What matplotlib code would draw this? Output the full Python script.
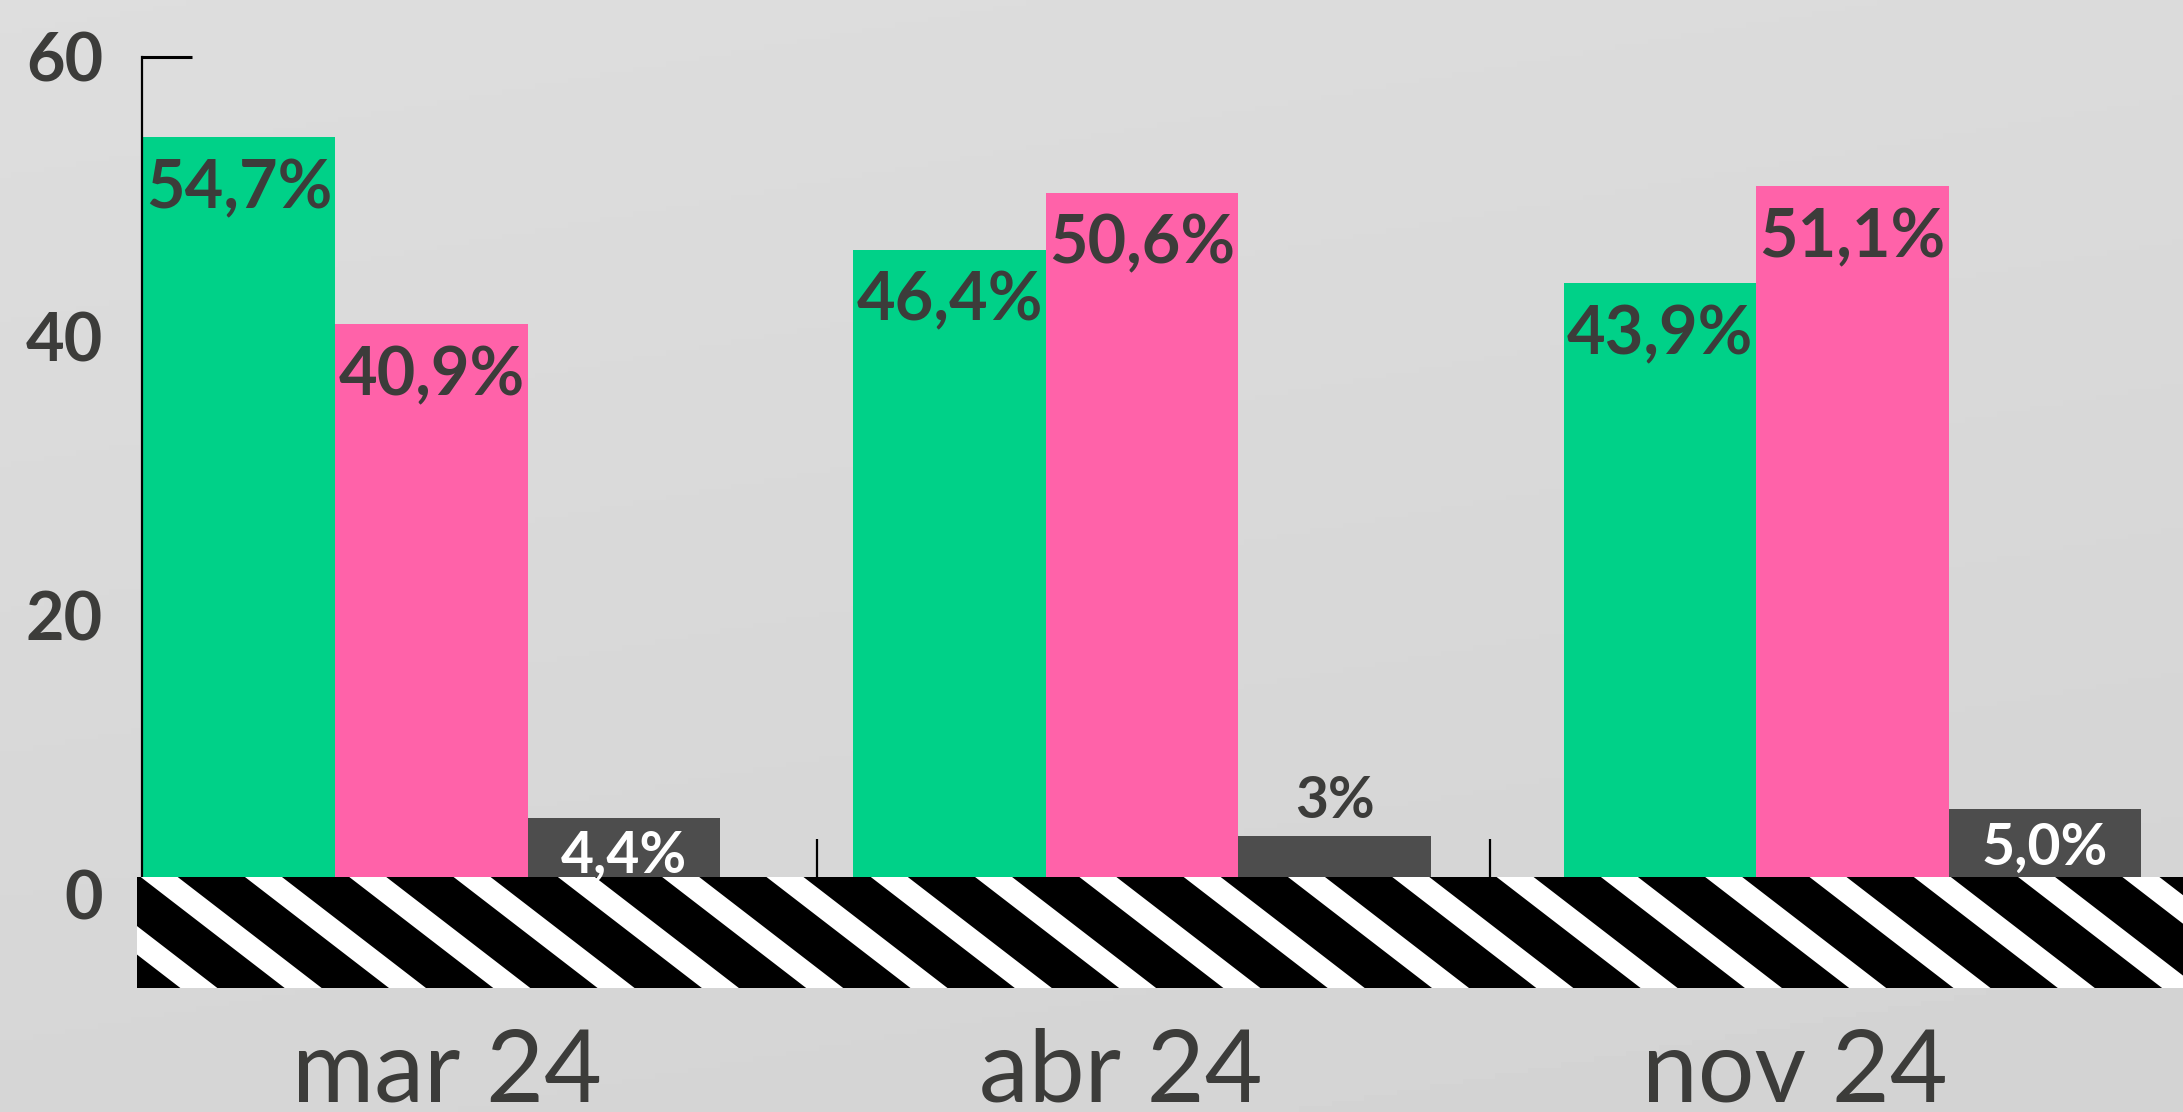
import matplotlib
matplotlib.use('Agg')
import matplotlib.pyplot as plt
from matplotlib.patches import Rectangle, Polygon
from matplotlib.transforms import ScaledTranslation
import numpy as np

plt.rcParams['font.family'] = ['Lato', 'DejaVu Sans']

# data
periods = ['mar 24', 'abr 24', 'nov 24']
green_vals = [54.7, 46.4, 43.9]
pink_vals = [40.9, 50.6, 51.1]
gray_vals = [4.4, 3.0, 5.0]
green_labels = ['54,7%', '46,4%', '43,9%']
pink_labels = ['40,9%', '50,6%', '51,1%']
gray_labels = ['4,4%', '3%', '5,0%']
yticks = [0, 20, 40, 60]

c_green = '#00d188'
c_pink = '#ff62a9'
c_gray = '#4d4d4d'
c_text = '#3c3c3a'

W, H = 2183, 1112
fig = plt.figure(figsize=(W/100, H/100), dpi=100)

# soft background gradient
bg = fig.add_axes([0, 0, 1, 1], zorder=-10)
gy, gx = np.mgrid[0:1:200j, 0:1:200j]
grad = 0.868 - 0.03*gy - 0.01*gx
bg.imshow(grad, cmap='gray', vmin=0, vmax=1, aspect='auto', extent=[0, 1, 0, 1])
bg.axis('off')

ax = fig.add_axes([142/W, (H-988)/H, (W-142)/W, 931/H])
ax.patch.set_alpha(0)
ytop = (877-57)/13.52
ybot = (877-988)/13.52
ax.set_ylim(ybot, ytop)
ax.set_xlim(-0.005, (W-143)/192.5)

bw = 1.0
gstep = 3.69
x0 = np.arange(len(periods))*gstep
ax.bar(x0+0.5*bw, green_vals, bw, color=c_green, zorder=2)
ax.bar(x0+1.5*bw, pink_vals, bw, color=c_pink, zorder=2)
ax.bar(x0+2.5*bw, gray_vals, bw, color=c_gray, zorder=2)

lab_kw = dict(ha='center', textcoords='offset points', fontweight='bold', zorder=5)
for i in range(len(periods)):
    ax.annotate(green_labels[i], (x0[i]+0.5*bw, green_vals[i]), xytext=(0, -15),
                va='top', fontsize=48, color=c_text, **lab_kw)
    ax.annotate(pink_labels[i], (x0[i]+1.5*bw, pink_vals[i]), xytext=(0, -15),
                va='top', fontsize=48, color=c_text, **lab_kw)
    if gray_vals[i] >= 4:
        ax.annotate(gray_labels[i], (x0[i]+2.5*bw, gray_vals[i]), xytext=(0, -9),
                    va='top', fontsize=41, color='white', **lab_kw)
    else:
        ax.annotate(gray_labels[i], (x0[i]+2.5*bw, gray_vals[i]), xytext=(0, 6),
                    va='bottom', fontsize=41, color=c_text, **lab_kw)

# striped base band
band_left = (137-143)/192.5
band = Rectangle((band_left, ybot), 20, -ybot, facecolor='black', edgecolor='none',
                 clip_on=False, zorder=3)
ax.add_patch(band)
pitch = 104.3/192.5
sw = 37/192.5
shift = 144/192.5
for k in range(-3, 22):
    xs = (245-143)/192.5 + k*pitch
    p = Polygon([(xs, 0), (xs+sw, 0), (xs+sw+shift, ybot), (xs+shift, ybot)],
                closed=True, facecolor='white', edgecolor='none', zorder=4)
    ax.add_patch(p)
    p.set_clip_path(band)
    p.set_clip_on(True)

# axes decoration
for s in ['top', 'right', 'bottom']:
    ax.spines[s].set_visible(False)
ax.spines['left'].set_bounds(0, ytop)
ax.spines['left'].set_linewidth(1.6)
ax.hlines(ytop, -0.005, 0.255, color='black', lw=2.2, clip_on=False)
tick_x = np.arange(len(periods))*3.5
ax.vlines(tick_x[1:], 0, 2.8, color='black', lw=1.6, zorder=1)

ax.set_yticks(yticks)
ax.set_yticklabels([str(v) for v in yticks], fontsize=48, fontweight='bold', color=c_text)
ax.tick_params(axis='y', length=0, pad=28)
ax.set_xticks([])
# the printed scale labels sit on a slightly wider spacing than the bars
for lab, v in zip(ax.get_yticklabels(), yticks):
    lab.set_transform(lab.get_transform() +
                      ScaledTranslation(0, -(18 - 0.45*v)/100, fig.dpi_scale_trans))

for i, p in enumerate(periods):
    ax.text(tick_x[i]+1.58, (877-1102)/13.52, p, ha='center', va='baseline',
            fontsize=72, color=c_text, clip_on=False)

plt.savefig('out.png', dpi=100)
